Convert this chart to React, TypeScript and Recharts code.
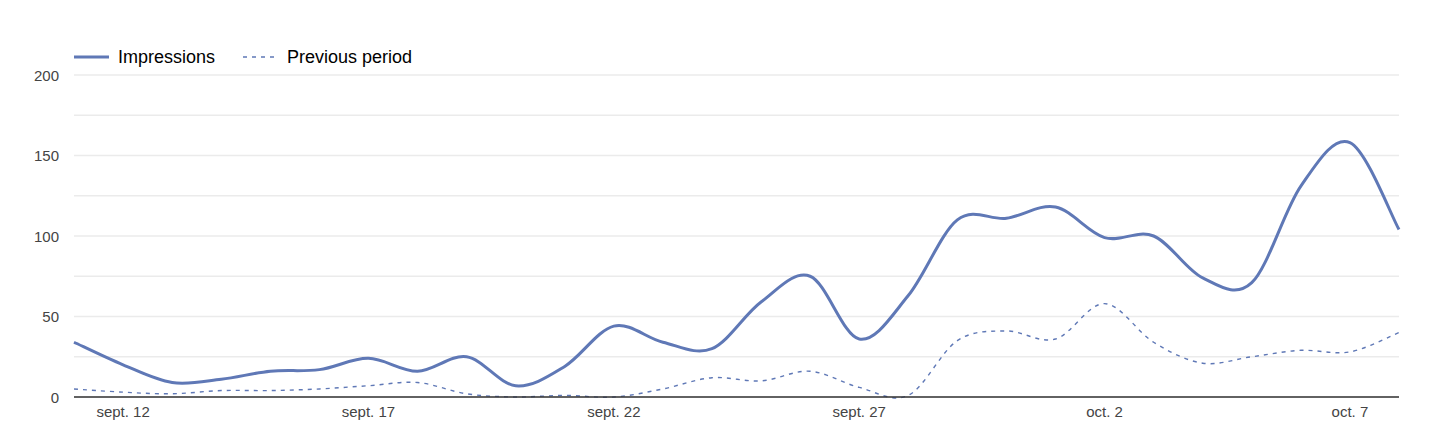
import React from "react";
import { LineChart, Line, XAxis, YAxis, CartesianGrid } from "recharts";

const days = [
  "sept. 11", "sept. 12", "sept. 13", "sept. 14", "sept. 15", "sept. 16", "sept. 17",
  "sept. 18", "sept. 19", "sept. 20", "sept. 21", "sept. 22", "sept. 23", "sept. 24",
  "sept. 25", "sept. 26", "sept. 27", "sept. 28", "sept. 29", "sept. 30", "oct. 1",
  "oct. 2", "oct. 3", "oct. 4", "oct. 5", "oct. 6", "oct. 7", "oct. 8",
];
const impressions = [34, 20, 9, 11, 16, 17, 24, 16, 25, 7, 19, 44, 34, 30, 59, 75, 36, 63, 110, 111, 118, 99, 100, 74, 71, 131, 158, 104];
const previousPeriod = [5, 3, 2, 4, 4, 5, 7, 9, 2, 0, 1, 0, 5, 12, 10, 16, 6, 1, 35, 41, 36, 58, 34, 21, 25, 29, 28, 40];
const xTicks = ["sept. 12", "sept. 17", "sept. 22", "sept. 27", "oct. 2", "oct. 7"];
const yTicks = [0, 25, 50, 75, 100, 125, 150, 175, 200];

const data = days.map((d, i) => ({ day: d, impressions: impressions[i], previous: previousPeriod[i] }));

const BLUE = "#5f78b6";
const FONT = "'Liberation Sans', Arial, sans-serif";

// smooth curve through every point (catmull-rom style), like the original chart
function smoothCurve(ctx: any) {
  let pts: [number, number][] = [];
  return {
    areaStart() {},
    areaEnd() {},
    lineStart() {
      pts = [];
    },
    point(x: number, y: number) {
      pts.push([+x, +y]);
    },
    lineEnd() {
      if (!pts.length) return;
      ctx.moveTo(pts[0][0], pts[0][1]);
      for (let i = 0; i < pts.length - 1; i++) {
        const p0 = pts[i - 1] || pts[i];
        const p1 = pts[i];
        const p2 = pts[i + 1];
        const p3 = pts[i + 2] || pts[i + 1];
        ctx.bezierCurveTo(
          p1[0] + (p2[0] - p0[0]) / 6,
          p1[1] + (p2[1] - p0[1]) / 6,
          p2[0] - (p3[0] - p1[0]) / 6,
          p2[1] - (p3[1] - p1[1]) / 6,
          p2[0],
          p2[1]
        );
      }
    },
  };
}

const YTick = (props: any) => {
  const { y, payload } = props;
  if (payload.value % 50 !== 0) return null;
  return (
    <text x={59} y={y} textAnchor="end" dominantBaseline="central" fill="#444" fontSize={15} fontFamily={FONT}>
      {payload.value}
    </text>
  );
};

const legendText: React.CSSProperties = { position: "absolute", top: 46, fontSize: 18, lineHeight: "22px", color: "#000" };

export default function App() {
  return (
    <div style={{ position: "absolute", left: 0, top: 0, width: 1450, height: 441, background: "#fff", fontFamily: FONT }}>
      <svg width={1450} height={70} style={{ position: "absolute", left: 0, top: 0 }}>
        <line x1={74} y1={57} x2={109} y2={57} stroke={BLUE} strokeWidth={3} />
        <line x1={243} y1={57} x2={277} y2={57} stroke={BLUE} strokeWidth={1.4} strokeDasharray="4 5" />
      </svg>
      <span style={{ ...legendText, left: 118 }}>Impressions</span>
      <span style={{ ...legendText, left: 287 }}>Previous period</span>
      <LineChart width={1450} height={441} data={data} margin={{ top: 75, right: 51, bottom: 14, left: 0 }}>
        <CartesianGrid vertical={false} stroke="#ebebeb" strokeWidth={1.5} />
        <XAxis
          dataKey="day"
          ticks={xTicks}
          interval={0}
          tickLine={false}
          axisLine={{ stroke: "#333", strokeWidth: 1.5 }}
          tick={{ fill: "#444", fontSize: 15, fontFamily: FONT }}
          tickMargin={3}
          height={30}
        />
        <YAxis
          domain={[0, 200]}
          ticks={yTicks}
          width={74}
          axisLine={false}
          tickLine={false}
          tick={<YTick />}
        />
        <Line
          type={smoothCurve as any}
          dataKey="previous"
          stroke={BLUE}
          strokeWidth={1.4}
          strokeDasharray="4 5"
          dot={false}
          isAnimationActive={false}
        />
        <Line
          type={smoothCurve as any}
          dataKey="impressions"
          stroke={BLUE}
          strokeWidth={3}
          dot={false}
          isAnimationActive={false}
        />
      </LineChart>
    </div>
  );
}
